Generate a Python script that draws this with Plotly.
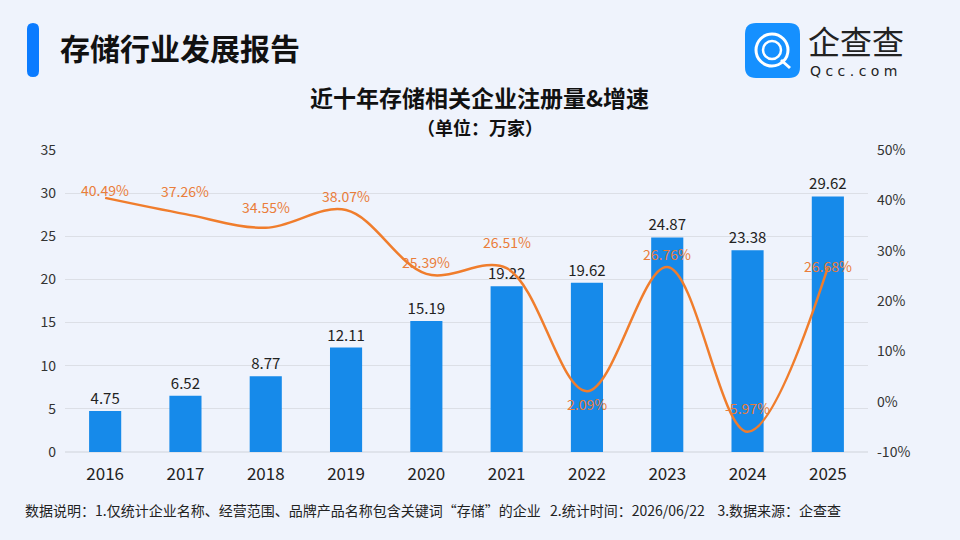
import plotly.graph_objects as go

years = ["2016", "2017", "2018", "2019", "2020", "2021", "2022", "2023", "2024", "2025"]
registrations = [4.75, 6.52, 8.77, 12.11, 15.19, 19.22, 19.62, 24.87, 23.38, 29.62]
growth = [40.49, 37.26, 34.55, 38.07, 25.39, 26.51, 2.09, 26.76, -5.97, 26.68]
left_ticks = [0, 5, 10, 15, 20, 25, 30, 35]
right_ticks = [-10, 0, 10, 20, 30, 40, 50]

# style: vertical pixel offsets of the growth labels (as in the reference)
label_shift = [8, 23, 21, 14, 12, 26, -13, 13, 24, 1]

FONT = "Noto Sans CJK SC"
W, H = 960, 540
L, R, T, B = 65, 92, 150, 88
PW, PH = W - L - R, H - T - B


def px(x):
    return (x - L) / PW


def py(y):
    return (H - B - y) / PH


fig = go.Figure()
fig.add_trace(go.Bar(
    x=years, y=registrations, marker_color="#168aea", marker_line_width=0,
    text=[f"{v:.2f}" for v in registrations], textposition="outside",
    constraintext="none",
    textfont=dict(color="#222222", size=15, family=FONT), cliponaxis=False,
    yaxis="y", hoverinfo="skip"))
fig.add_trace(go.Scatter(
    x=years, y=growth, mode="lines", yaxis="y2",
    line=dict(color="#f07d2c", width=2.5, shape="spline", smoothing=1.0),
    hoverinfo="skip"))

annotations = []
for i, (g, s) in enumerate(zip(growth, label_shift)):
    annotations.append(dict(x=i, y=g, xref="x", yref="y2", text=f"{g:.2f}%",
                            showarrow=False, yshift=s, yanchor="middle",
                            font=dict(color="#ea7d3a", size=14, family=FONT)))

# header / titles
annotations += [
    dict(x=px(58), y=py(47), xref="paper", yref="paper", text="<b>存储行业发展报告</b>",
         showarrow=False, xanchor="left", yanchor="middle",
         font=dict(size=30, color="#111111", family=FONT)),
    dict(x=px(480), y=py(97), xref="paper", yref="paper", text="<b>近十年存储相关企业注册量&增速</b>",
         showarrow=False, xanchor="center", yanchor="middle",
         font=dict(size=23, color="#111111", family=FONT)),
    dict(x=px(480), y=py(127), xref="paper", yref="paper", text="<b>（单位：万家）</b>",
         showarrow=False, xanchor="center", yanchor="middle",
         font=dict(size=18, color="#111111", family=FONT)),
    dict(x=px(807), y=py(40), xref="paper", yref="paper", text="企查查",
         showarrow=False, xanchor="left", yanchor="middle", borderpad=0,
         font=dict(size=32, color="#222222", family=FONT)),
    dict(x=px(809), y=py(71), xref="paper", yref="paper", text="Q c c . c o m",
         showarrow=False, xanchor="left", yanchor="middle", borderpad=0,
         font=dict(size=14, color="#222222", family="DejaVu Sans")),
    dict(x=px(23), y=py(510), xref="paper", yref="paper",
         text="数据说明：1.仅统计企业名称、经营范围、品牌产品名称包含关键词“存储”的企业   2.统计时间：2026/06/22    3.数据来源：企查查",
         showarrow=False, xanchor="left", yanchor="middle",
         font=dict(size=14, color="#222222", family=FONT)),
]


def rrect(x0, y0, x1, y1, r):
    X0, X1 = px(x0), px(x1)
    Y0, Y1 = py(y0), py(y1)
    rx, ry = r / PW, r / PH
    return (f"M {X0+rx},{Y0} L {X1-rx},{Y0} Q {X1},{Y0} {X1},{Y0-ry} "
            f"L {X1},{Y1+ry} Q {X1},{Y1} {X1-rx},{Y1} L {X0+rx},{Y1} "
            f"Q {X0},{Y1} {X0},{Y1+ry} L {X0},{Y0-ry} Q {X0},{Y0} {X0+rx},{Y0} Z")


shapes = [
    dict(type="path", path=rrect(27, 23, 39, 77, 6), xref="paper", yref="paper",
         fillcolor="#0b7bff", line_width=0, layer="above"),
    dict(type="path", path=rrect(745, 23, 800, 78, 11), xref="paper", yref="paper",
         fillcolor="#1590ff", line_width=0, layer="above"),
    dict(type="circle", xref="paper", yref="paper", x0=px(756), x1=px(788), y0=py(66), y1=py(34),
         line=dict(color="white", width=3), layer="above"),
    dict(type="circle", xref="paper", yref="paper", x0=px(763), x1=px(781), y0=py(59), y1=py(41),
         line=dict(color="white", width=2.5), layer="above"),
    dict(type="line", xref="paper", yref="paper", x0=px(781), x1=px(790), y0=py(60), y1=py(68),
         line=dict(color="white", width=3), layer="above"),
    dict(type="line", xref="paper", yref="paper", x0=px(65), x1=px(868), y0=0, y1=0,
         line=dict(color="#cfd3da", width=1), layer="below"),
]

fig.update_layout(
    width=W, height=H, margin=dict(l=L, r=R, t=T, b=B),
    paper_bgcolor="#eff3fc", plot_bgcolor="rgba(0,0,0,0)",
    showlegend=False, bargap=0.6,
    font=dict(family=FONT, color="#333333"),
    xaxis=dict(type="category", range=[-0.5, len(years) - 0.5], showgrid=False,
               zeroline=False, showline=False, ticks="", ticklabelstandoff=10,
               tickfont=dict(size=17, color="#222222", family=FONT)),
    yaxis=dict(range=[0, 35], tickvals=left_ticks, showgrid=True, gridcolor="#dcdfe6",
               gridwidth=1, zeroline=False, showline=False, ticks="", ticklabelstandoff=8,
               tickfont=dict(size=14, color="#333333", family=FONT)),
    yaxis2=dict(range=[-10, 50], tickvals=right_ticks, ticktext=[f"{v}%" for v in right_ticks],
                overlaying="y", side="right", showgrid=False, zeroline=False,
                showline=False, ticks="", ticklabelstandoff=8,
                tickfont=dict(size=14, color="#333333", family=FONT)),
    annotations=annotations, shapes=shapes,
)

fig.write_html("out.html")
